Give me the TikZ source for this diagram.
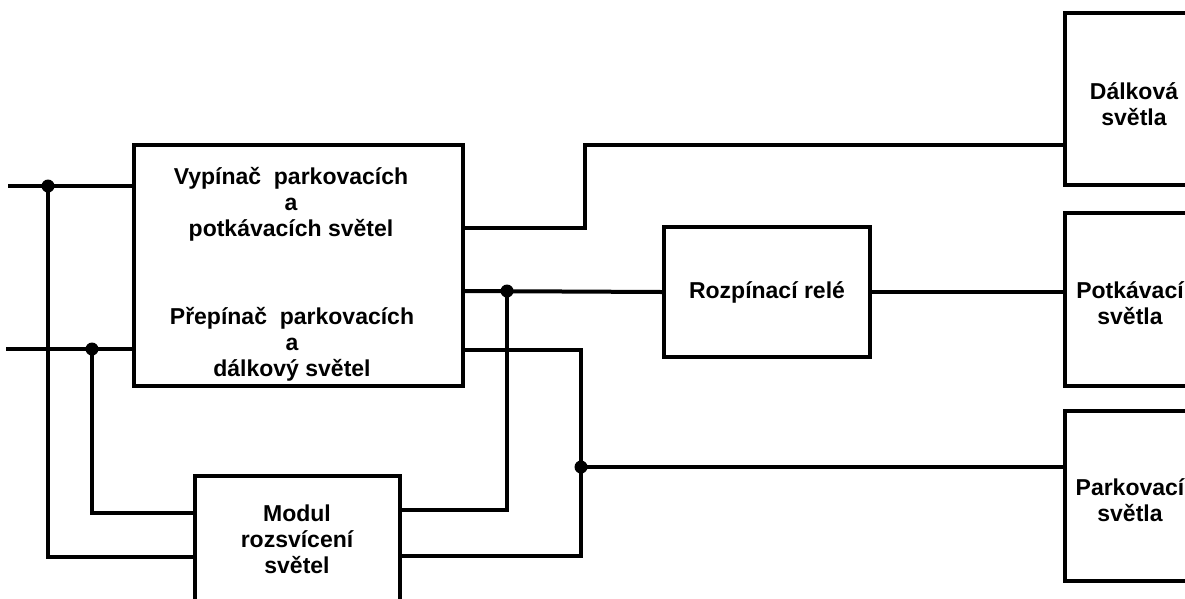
\documentclass[tikz,border=0pt]{standalone}
\usepackage{fontspec}
\setmainfont{Liberation Sans}
\begin{document}
\begin{tikzpicture}[x=1pt,y=-1pt,
  wire/.style={line width=4pt, line cap=rect, line join=miter},
  blk/.style={draw, line width=4pt, inner sep=0pt, fill=white},
  lbl/.style={font=\fontsize{23}{26}\selectfont\bfseries, align=center, inner sep=0pt},
  junc/.style={circle, fill=black, inner sep=0pt, minimum size=13pt}]
\useasboundingbox (0,0) rectangle (1185,598);
\clip (0,0) rectangle (1185,598);
% blocks
\node[blk, minimum width=329pt, minimum height=241pt] (sw) at (298.5,265.5) {};
\node[blk, minimum width=205pt, minimum height=150pt] (mod) at (297.5,551) {};
\node[blk, minimum width=206pt, minimum height=130pt, lbl] (rel) at (767,292) {Rozpínací relé};
\node[blk, minimum width=130pt, minimum height=172pt] (r1) at (1130,99) {};
\node[blk, minimum width=130pt, minimum height=173pt] (r2) at (1130,299.5) {};
\node[blk, minimum width=130pt, minimum height=170pt] (r3) at (1130,496) {};
% labels
\node[lbl] (t1) at (291,204) {Vypínač~ parkovacích\\a\\potkávacích světel};
\node[lbl] (t2) at (292,344) {Přepínač~ parkovacích\\a\\dálkový světel};
\node[lbl] (t3) at (297,539) {Modul\\rozsvícení\\světel};
\node[lbl] (t4) at (1134,104) {Dálková\\světla};
\node[lbl] (t5) at (1130,303) {Potkávací\\světla};
\node[lbl] (t6) at (1130,500) {Parkovací\\světla};
% free ends and bends
\coordinate (in1) at (10,186);
\coordinate (in2) at (8,349);
\coordinate (j1) at (48,186);
\coordinate (j2) at (92,349);
\coordinate (j3) at (507,291);
\coordinate (j4) at (581,467);
% inputs
\draw[wire] (in1) -- (in1 -| sw.west);
\draw[wire] (in2) -- (in2 -| sw.west);
\draw[wire] (j1) -- (48,557) -- (48,557 -| mod.west);
\draw[wire] (j2) -- (92,513) -- (92,513 -| mod.west);
% outputs of switch
\draw[wire] (463,228 -| sw.east) -- (585,228) -- (585,145) -- (585,145 -| r1.west);
\draw[wire] (463,291 -| sw.east) -- (rel.west);
\draw[wire] (463,350 -| sw.east) -- (581,350) -- (581,556) -- (400,556 -| mod.east);
\draw[wire] (400,510 -| mod.east) -- (507,510) -- (j3);
\draw[wire] (j4) -- (j4 -| r3.west);
\draw[wire] (rel.east) -- (rel.east -| r2.west);
% junction dots
\node[junc] (d1) at (j1) {};
\node[junc] (d2) at (j2) {};
\node[junc] (d3) at (j3) {};
\node[junc] (d4) at (j4) {};
\end{tikzpicture}
\end{document}
